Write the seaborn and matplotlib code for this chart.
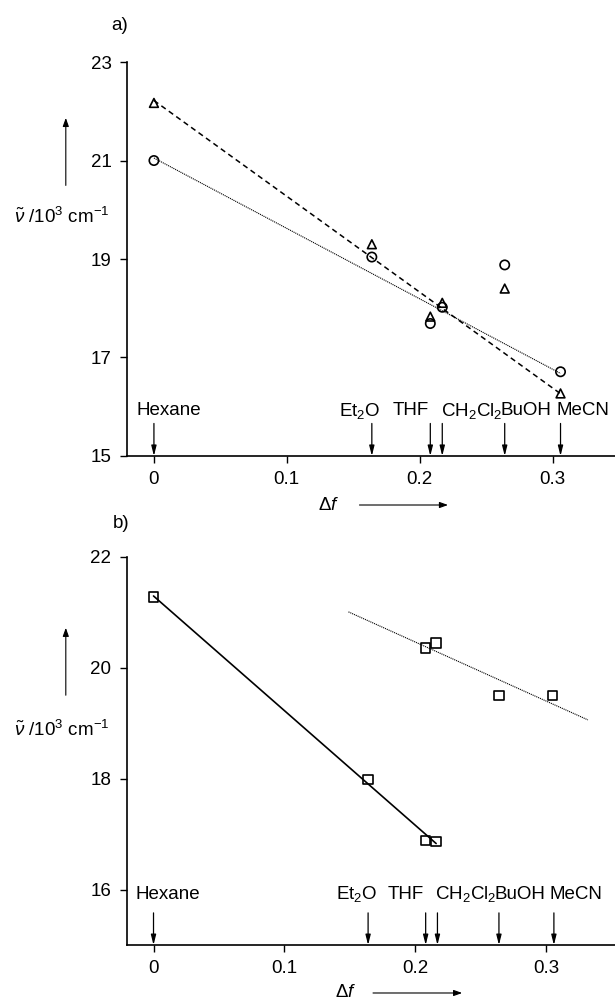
import numpy as np
import pandas as pd
import matplotlib
matplotlib.use('Agg')
import matplotlib.pyplot as plt
import seaborn as sns

# solvents and their orientation polarisability
solvents = ['Hexane', 'Et$_2$O', 'THF', 'CH$_2$Cl$_2$', 'BuOH', 'MeCN']
delta_f = [0.0, 0.164, 0.208, 0.217, 0.264, 0.306]
label_x = [0.011, 0.155, 0.193, 0.239, 0.280, 0.323]  # where the names sit

# panel a) two bands (circles / triangles), 10^3 cm-1
nu_circle = [21.00, 19.04, 17.69, 18.02, 18.88, 16.71]
nu_triangle = [22.17, 19.30, 17.83, 18.11, 18.40, 16.27]
fit_mask_a = [True, True, True, True, False, True]  # BuOH left out of the fit

# panel b) squares, two groups
b_x1 = [0.0, 0.164, 0.208, 0.216]
b_y1 = [21.28, 17.99, 16.89, 16.87]
b_x2 = [0.208, 0.216, 0.264, 0.305]
b_y2 = [20.36, 20.45, 19.50, 19.50]
b_fit2_span = [0.149, 0.332]

sns.set_style('ticks')
plt.rcParams['font.family'] = ['Liberation Sans', 'DejaVu Sans']
plt.rcParams['mathtext.fontset'] = 'custom'
plt.rcParams['mathtext.rm'] = 'Liberation Sans'
plt.rcParams['mathtext.it'] = 'Liberation Sans:italic'
plt.rcParams['mathtext.cal'] = 'Liberation Sans'
plt.rcParams['text.color'] = 'k'
plt.rcParams['xtick.color'] = 'k'
plt.rcParams['ytick.color'] = 'k'
FS = 13.5

fig = plt.figure(figsize=(6.15, 10.01), dpi=100)
ax_a = fig.add_axes([0.206, 0.5445, 0.794, 0.3935])
ax_b = fig.add_axes([0.206, 0.0559, 0.794, 0.3877])

da = pd.DataFrame({'df': delta_f, 'circ': nu_circle, 'tri': nu_triangle, 'fit': fit_mask_a})
fa = da[da['fit']]

# ---- panel a
sns.regplot(x='df', y='tri', data=fa, ax=ax_a, scatter=False, ci=None,
            line_kws=dict(color='k', ls=(0, (3.5, 2.5)), lw=1.1))
sns.regplot(x='df', y='circ', data=fa, ax=ax_a, scatter=False, ci=None,
            line_kws=dict(color='k', ls=(0, (1, 0.8)), lw=0.8))
sns.scatterplot(x='df', y='circ', data=da, ax=ax_a, marker='o', s=45,
                facecolors='none', edgecolors='k', linewidth=1.2, zorder=3)
sns.scatterplot(x='df', y='tri', data=da, ax=ax_a, marker='^', s=40,
                facecolors='none', edgecolors='k', linewidth=1.2, zorder=3)
ax_a.set_xlim(-0.0205, 0.347)
ax_a.set_ylim(15, 23)
ax_a.set_yticks([15, 17, 19, 21, 23])

# ---- panel b
db1 = pd.DataFrame({'x': b_x1, 'y': b_y1})
db2 = pd.DataFrame({'x': b_x2, 'y': b_y2})
sns.regplot(x='x', y='y', data=db1, ax=ax_b, scatter=False, ci=None,
            line_kws=dict(color='k', ls='-', lw=1.2))
k, c = np.polyfit(b_x2, b_y2, 1)
span = np.array(b_fit2_span)
sns.lineplot(x=span, y=k * span + c, ax=ax_b, color='k', ls=(0, (1, 0.8)), lw=0.8)
for d in (db1, db2):
    sns.scatterplot(x='x', y='y', data=d, ax=ax_b, marker='s', s=45,
                    facecolors='none', edgecolors='k', linewidth=1.2, zorder=3)
ax_b.set_xlim(-0.0205, 0.3527)
ax_b.set_ylim(15, 22)
ax_b.set_yticks([16, 18, 20, 22])

# solvent markers along the x axis
for ax, ytxt, ytop in ((ax_a, 15.92, 15.66), (ax_b, 15.92, 15.58)):
    for name, xs, xl in zip(solvents, delta_f, label_x):
        ax.text(xl, ytxt, name, ha='center', va='center', fontsize=FS, color='k')
        ax.annotate('', xy=(xs, 15.0), xytext=(xs, ytop),
                    arrowprops=dict(arrowstyle='-|>,head_length=0.6,head_width=0.15',
                                    color='k', lw=0.9, shrinkA=0, shrinkB=0))

for ax in (ax_a, ax_b):
    sns.despine(ax=ax)
    ax.set_xticks([0, 0.1, 0.2, 0.3])
    ax.set_xticklabels(['0', '0.1', '0.2', '0.3'])
    ax.set_xlabel('')
    ax.set_ylabel('')
    ax.tick_params(direction='out', length=5, width=1, pad=6, labelsize=FS,
                   colors='k', labelcolor='k')
    for s in ('left', 'bottom'):
        ax.spines[s].set_linewidth(1.2)
        ax.spines[s].set_color('k')

# axis captions drawn as in the journal figure
ylab = r'$\tilde{\nu}$ /10$^3$ cm$^{-1}$'
for ylab_y, arr_lo, arr_hi in ((0.7835, 0.812, 0.885), (0.2707, 0.3027, 0.3756)):
    fig.text(0.022, ylab_y, ylab, ha='left', va='center', fontsize=FS)
    fig.patches.append(plt.matplotlib.patches.FancyArrowPatch(
        (0.107, arr_lo), (0.107, arr_hi), transform=fig.transFigure,
        arrowstyle='-|>,head_length=5,head_width=1.8', color='k', lw=0.8))

for dx, dy, a0, a1 in ((0.534, 0.4955, 0.580, 0.733), (0.5626, 0.008, 0.602, 0.756)):
    fig.text(dx, dy, r'$\Delta f$', ha='center', va='center', fontsize=FS)
    fig.patches.append(plt.matplotlib.patches.FancyArrowPatch(
        (a0, dy), (a1, dy), transform=fig.transFigure,
        arrowstyle='-|>,head_length=5,head_width=1.8', color='k', lw=0.8))

fig.text(0.195, 0.975, 'a)', ha='center', va='center', fontsize=FS)
fig.text(0.197, 0.4775, 'b)', ha='center', va='center', fontsize=FS)

fig.savefig('out.png', dpi=100)
